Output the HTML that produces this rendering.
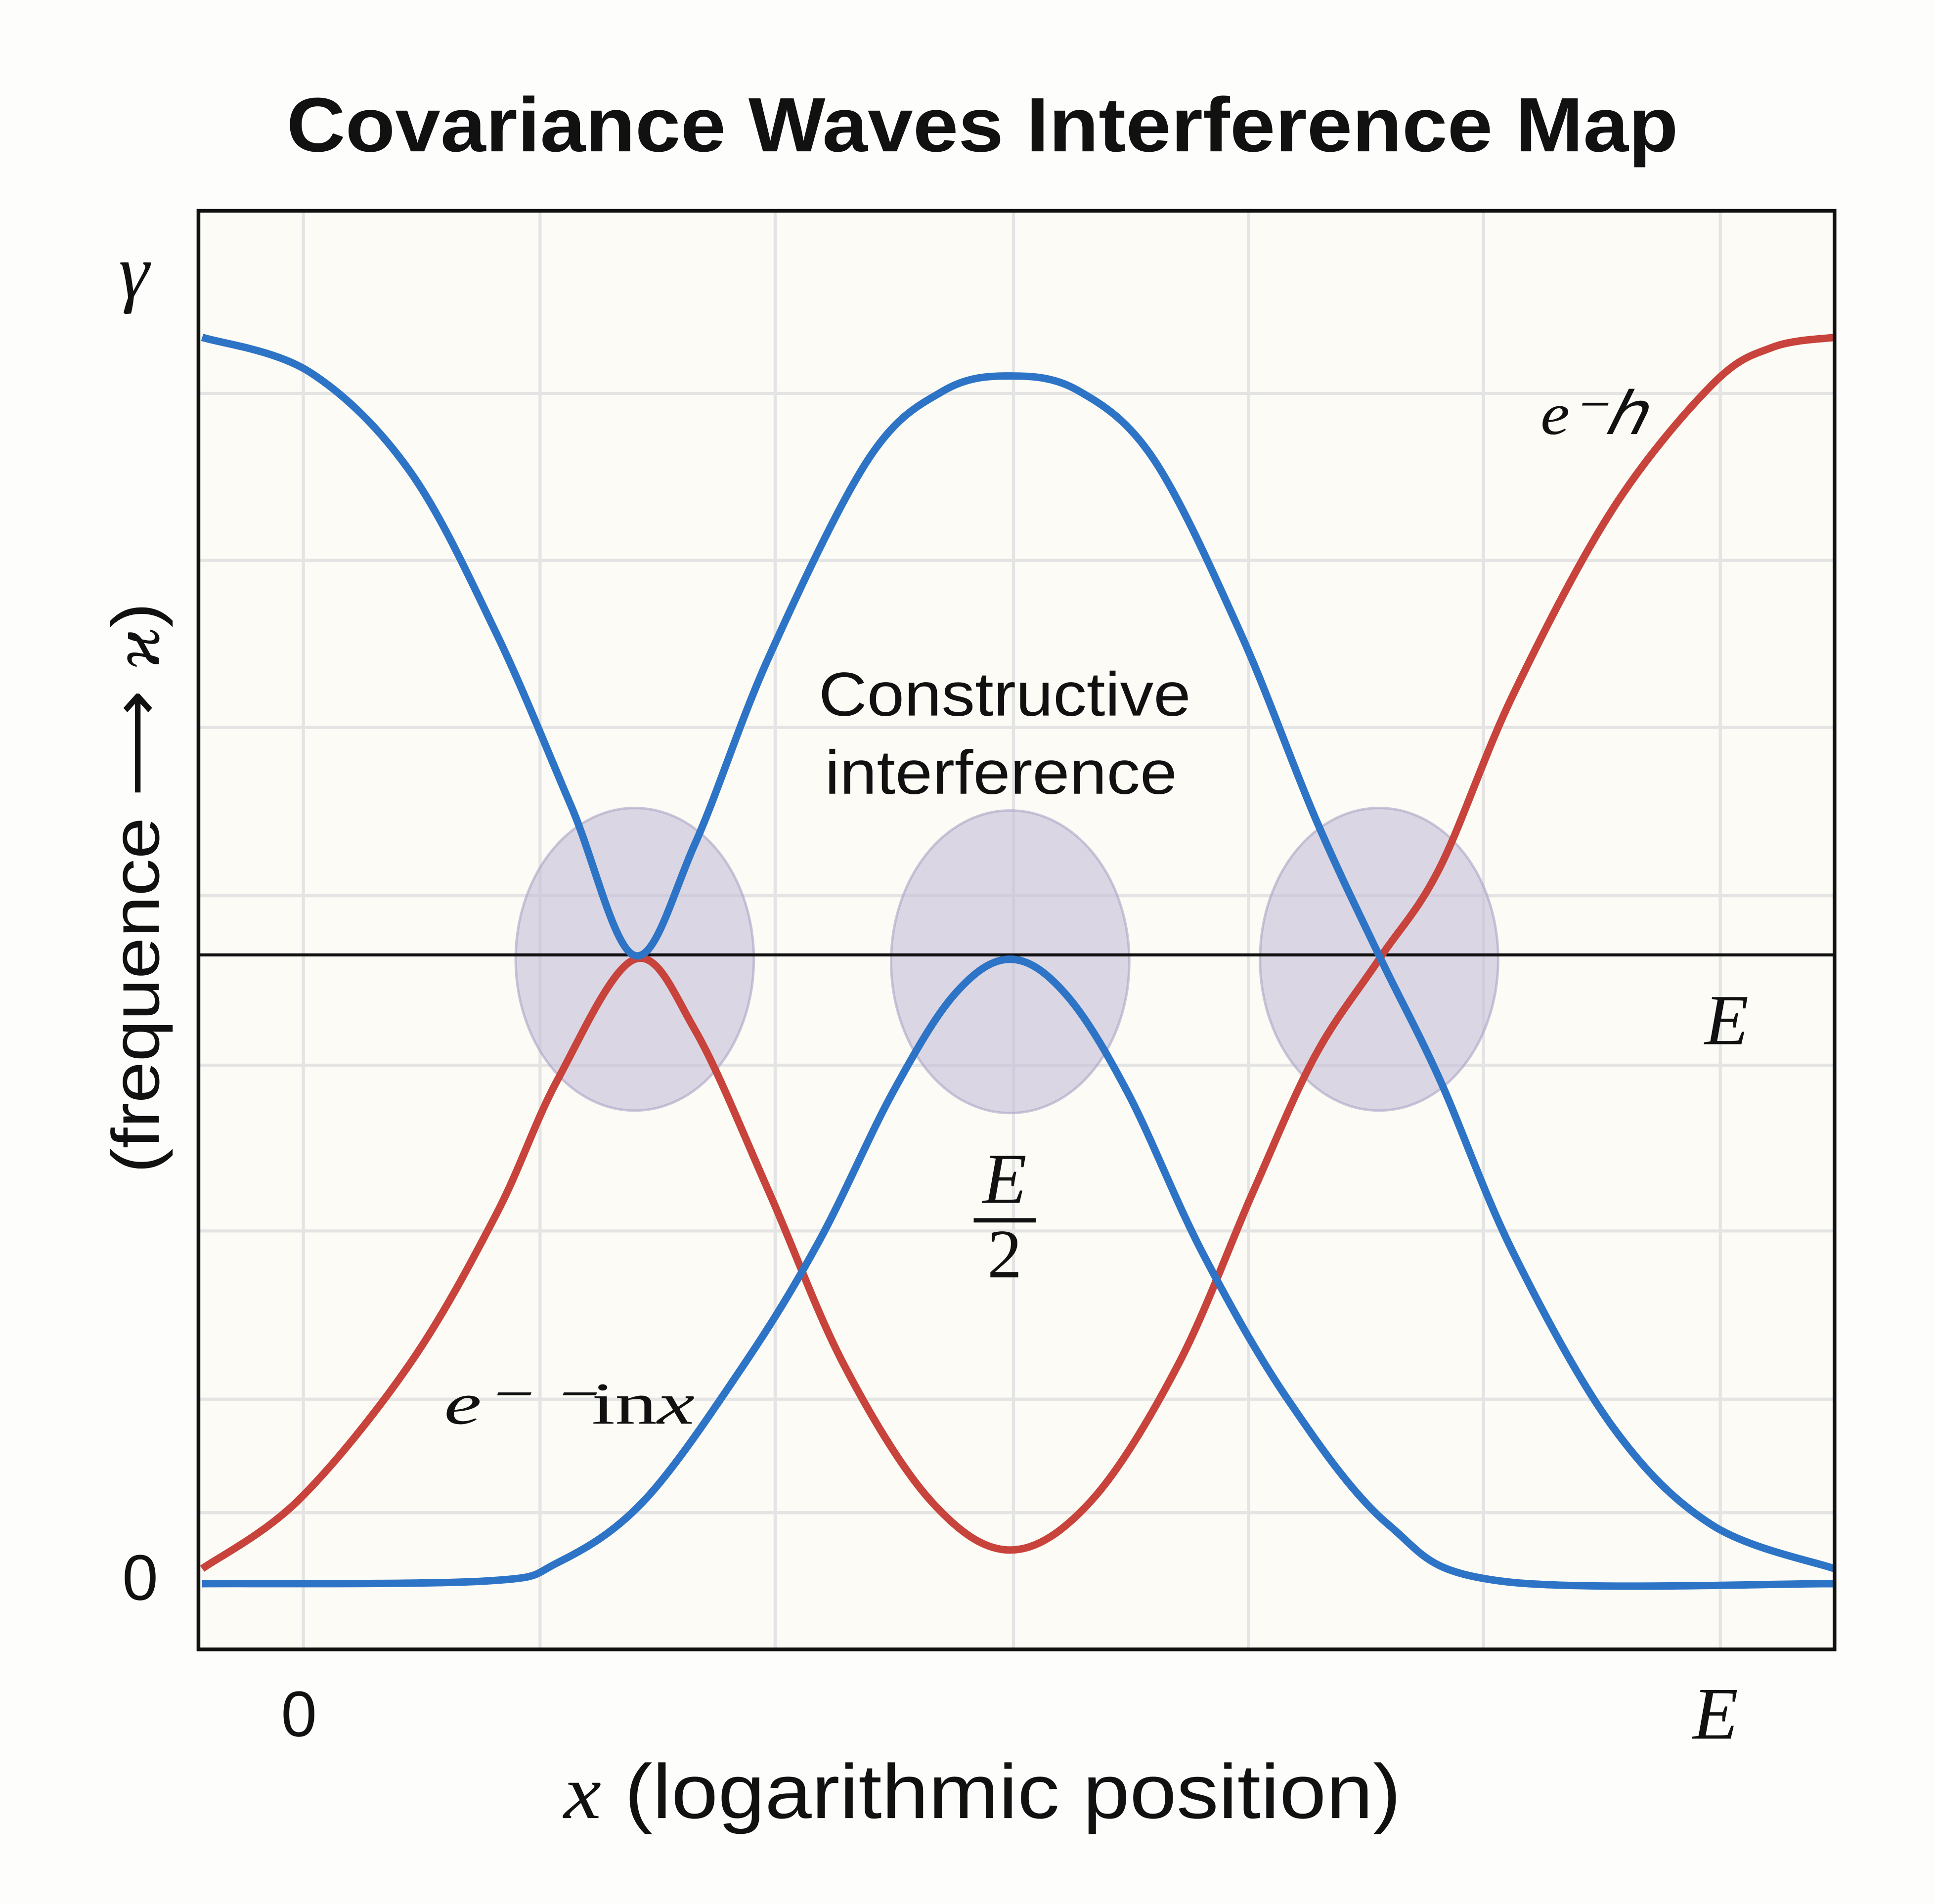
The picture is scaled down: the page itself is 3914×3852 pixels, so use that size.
<!DOCTYPE html>
<html><head><meta charset="utf-8"><style>
html,body{margin:0;padding:0;background:#fdfdfb;}
svg{display:block}
</style></head><body>
<svg width="3914" height="3852" viewBox="0 0 1560 1535.3" preserveAspectRatio="none" xmlns="http://www.w3.org/2000/svg">
<rect x="0" y="0" width="1560" height="1536" fill="#fdfdfb"/>
<text x="792" y="122" text-anchor="middle" font-family="Liberation Sans, sans-serif" font-weight="bold" font-size="62" textLength="1122" lengthAdjust="spacingAndGlyphs" fill="#111">Covariance Waves Interference Map</text>
<rect x="160" y="170" width="1319" height="1160" fill="#fcfbf5"/>
<g id="grid"></g>
<g id="blobs"></g>
<line x1="160" y1="770" x2="1479" y2="770" stroke="#111" stroke-width="2.5"/>
<g id="series"></g>
<rect x="160" y="170" width="1319" height="1160" fill="none" stroke="#111" stroke-width="3"/>
<text x="108" y="240" text-anchor="middle" font-family="Liberation Serif, serif" font-style="italic" font-size="62" fill="#111">γ</text>
<text x="113" y="1290" text-anchor="middle" font-family="Liberation Sans, sans-serif" font-size="52" fill="#111">0</text>
<text x="241" y="1400" text-anchor="middle" font-family="Liberation Sans, sans-serif" font-size="52" fill="#111">0</text>
<text x="1383" y="1402" text-anchor="middle" font-family="Liberation Serif, serif" font-style="italic" font-size="60" fill="#111">E</text>
<text x="792" y="1466" text-anchor="middle" font-family="Liberation Sans, sans-serif" font-size="62" textLength="675" lengthAdjust="spacingAndGlyphs" fill="#111"><tspan font-family="Liberation Serif, serif" font-style="italic">x</tspan> (logarithmic position)</text>
<text transform="translate(128,716) rotate(-90)" text-anchor="middle" font-family="Liberation Sans, sans-serif" font-size="54" textLength="460" lengthAdjust="spacingAndGlyphs" fill="#111">(frequence ⟶ <tspan font-family="Liberation Serif, serif" font-style="italic">ϰ</tspan>)</text>
<text x="1392" y="842" text-anchor="middle" font-family="Liberation Serif, serif" font-style="italic" font-size="58" fill="#111">E</text>
<text x="810" y="970" text-anchor="middle" font-family="Liberation Serif, serif" font-style="italic" font-size="58" fill="#111">E</text>
<line x1="785" y1="984" x2="835" y2="984" stroke="#111" stroke-width="3.5"/>
<text x="810" y="1030" text-anchor="middle" font-family="Liberation Serif, serif" font-size="56" fill="#111">2</text>
<text x="810" y="577" text-anchor="middle" font-family="Liberation Sans, sans-serif" font-size="50" textLength="300" lengthAdjust="spacingAndGlyphs" fill="#111">Constructive</text>
<text x="807" y="640" text-anchor="middle" font-family="Liberation Sans, sans-serif" font-size="50" textLength="284" lengthAdjust="spacingAndGlyphs" fill="#111">interference</text>
<text x="358" y="1148" font-family="Liberation Serif, serif" font-style="italic" font-size="48" textLength="202" lengthAdjust="spacingAndGlyphs" fill="#111">e⁻ ⁻<tspan font-style="normal">in</tspan>x</text>
<text x="1242" y="350" font-family="Liberation Serif, serif" font-style="italic" font-size="48" textLength="85" lengthAdjust="spacingAndGlyphs" fill="#111">e⁻ℎ</text>
</svg>
<script>
const blueAX=[0,6.6,12.7,18.0,22.6,26.5,30.2,34.7,40.8,45.4,49.5,53.7,58.3,63.6,68.2,72.1,75.8,80.3,86.4,92.5,100];
const blueAY=[100,97.2,89.3,76.3,62.4,50.4,59.4,74.3,90.2,95.7,96.9,95.7,90.2,76.3,61.4,50.4,40.5,26.6,12.6,4.7,1.2];
const blueBX=[0,17.2,21.8,27.1,33.2,37.8,42.3,46.1,49.5,52.9,56.7,61.3,66.6,72.7,79.6,100];
const blueBY=[0,0.2,1.7,6.7,17.6,27.5,39.4,47.3,50.1,47.3,39.4,26.5,14.6,4.7,0.2,0];
const redX=[0,5.9,12.7,18.0,21.8,26.5,30.2,34.7,39.3,44.6,49.5,54.5,59.8,64.4,68.2,72.1,75.8,80.3,86.4,92.5,96.2,100];
const redY=[1.2,6.7,17.6,29.6,40.5,50.1,44.4,31.5,17.6,6.7,2.7,6.7,17.6,31.5,42.4,50.1,57.4,71.3,86.2,96.2,99.2,100];
const blobX=[26.5,49.5,72.1];
const blobY=[50.1,49.9,50.1];
const gridX=[6.2,20.7,35.1,49.7,64.1,78.5,93.0];
const gridY=[95.5,82.1,68.7,55.2,41.6,28.3,14.8,5.7];
const NS='http://www.w3.org/2000/svg';
const sx=v=>163+v*13.16, sy=v=>1277-v*10.05;
const grid=document.getElementById('grid');
gridX.forEach(g=>{const l=document.createElementNS(NS,'line');


l.setAttribute('x1',sx(g));l.setAttribute('x2',sx(g));l.setAttribute('y1',170);l.setAttribute('y2',1330);
l.setAttribute('stroke','#e4e4e4');l.setAttribute('stroke-width','2.5');grid.appendChild(l);});
gridY.forEach(g=>{const l=document.createElementNS(NS,'line');


l.setAttribute('y1',sy(g));l.setAttribute('y2',sy(g));l.setAttribute('x1',160);l.setAttribute('x2',1479);
l.setAttribute('stroke','#e4e4e4');l.setAttribute('stroke-width','2.5');grid.appendChild(l);});
const blobs=document.getElementById('blobs');
blobX.forEach((b,i)=>{const e=document.createElementNS(NS,'ellipse');


e.setAttribute('cx',sx(b));e.setAttribute('cy',sy(blobY[i]));e.setAttribute('rx',96);e.setAttribute('ry',122);
e.setAttribute('fill','rgba(196,190,216,0.6)');e.setAttribute('stroke','rgba(170,164,196,0.6)');e.setAttribute('stroke-width','2');blobs.appendChild(e);});
function path(xs,ys){const p=xs.map((x,i)=>[sx(x),sy(ys[i])]);let d='M'+p[0][0]+','+p[0][1];
for(let i=0;i<p.length-1;i++){const p0=p[Math.max(0,i-1)],p1=p[i],p2=p[i+1],p3=p[Math.min(p.length-1,i+2)];
const c1=[p1[0]+(p2[0]-p0[0])/6,p1[1]+(p2[1]-p0[1])/6],c2=[p2[0]-(p3[0]-p1[0])/6,p2[1]-(p3[1]-p1[1])/6];
d+=' C'+c1+' '+c2+' '+p2;}return d;}
const series=document.getElementById('series');
function add(xs,ys,col,name){const el=document.createElementNS(NS,'path');


el.setAttribute('d',path(xs,ys));el.setAttribute('fill','none');el.setAttribute('stroke',col);el.setAttribute('stroke-width','6');el.setAttribute('stroke-linejoin','round');series.appendChild(el);}
add(redX,redY,'#c8433b','red-wave');
add(blueBX,blueBY,'#2e74c6','blue-wave-lower');
add(blueAX,blueAY,'#2e74c6','blue-wave-upper');
</script>
</body></html>
